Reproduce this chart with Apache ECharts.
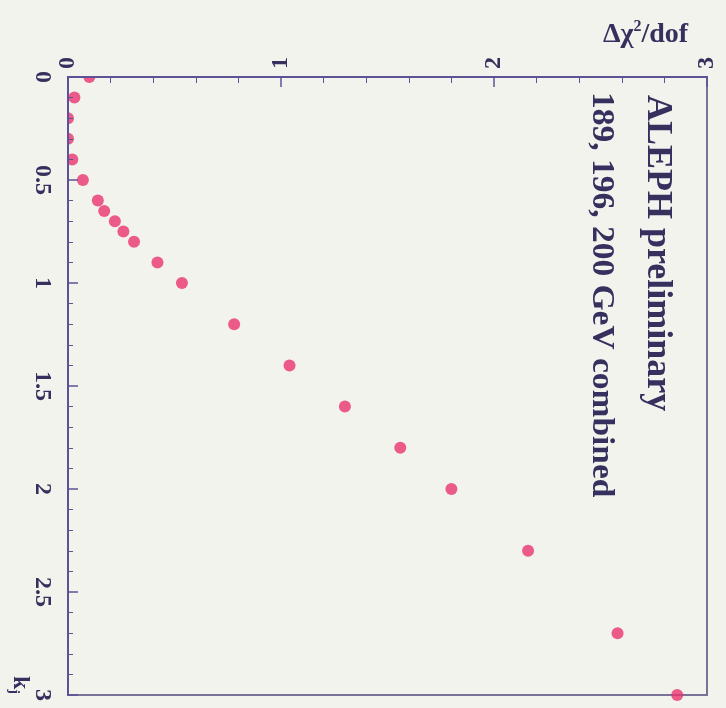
<!DOCTYPE html>
<html>
<head>
<meta charset="utf-8">
<script src="https://cdn.jsdelivr.net/npm/echarts@6/dist/echarts.min.js"></script>
<style>
  html, body { margin: 0; padding: 0; background: #f3f3ee; }
  #chart { width: 726px; height: 708px; }
</style>
</head>
<body>
<div id="chart"></div>
<script>
// Scan of k_j: Δχ²/dof versus the coupling k_j (plot drawn turned by a quarter)
const kValues = [0.0, 0.1, 0.2, 0.3, 0.4, 0.5, 0.6, 0.65, 0.7, 0.75, 0.8, 0.9, 1.0, 1.2, 1.4, 1.6, 1.8, 2.0, 2.3, 2.7, 3.0];
const chi2PerDof = [0.10, 0.03, 0.0, 0.0, 0.02, 0.07, 0.14, 0.17, 0.22, 0.26, 0.31, 0.42, 0.535, 0.78, 1.04, 1.30, 1.56, 1.80, 2.16, 2.58, 2.86];
const chi2Ticks = [0, 1, 2, 3];
const kTicks = [0, 0.5, 1, 1.5, 2, 2.5, 3];

const titleText = 'ALEPH preliminary';
const subtitleText = '189, 196, 200 GeV combined';

const ink = '#35305e';
const axisColor = '#5e5296';
const paper = '#f3f3ee';
const serif = '"Liberation Serif", "DejaVu Serif", serif';

const points = kValues.map((k, i) => [chi2PerDof[i], k]);

const chart = echarts.init(document.getElementById('chart'));
const grid = { left: 68, top: 77, right: 19, bottom: 13 };

chart.setOption({
  backgroundColor: paper,
  animation: false,
  grid: Object.assign({ show: true, borderColor: '#7a7296', borderWidth: 2, backgroundColor: 'transparent' }, grid),
  xAxis: {
    type: 'value', position: 'top', min: 0, max: 3, interval: 1, z: 5,
    axisLine: { show: true, onZero: false, lineStyle: { color: axisColor, width: 2 } },
    axisTick: { show: true, inside: true, length: 10, lineStyle: { color: axisColor, width: 1.5 } },
    minorTick: { show: true, splitNumber: 5, length: 6, lineStyle: { color: axisColor, width: 1 } },
    splitLine: { show: false },
    axisLabel: {
      rotate: -90, margin: 8, color: ink, fontFamily: serif, fontWeight: 'bold', fontSize: 24,
      formatter: v => (chi2Ticks.includes(v) ? String(v) : '')
    }
  },
  yAxis: {
    type: 'value', inverse: true, min: 0, max: 3, interval: 0.5, z: 5,
    axisLine: { show: true, onZero: false, lineStyle: { color: axisColor, width: 2 } },
    axisTick: { show: true, inside: true, length: 10, lineStyle: { color: axisColor, width: 1.5 } },
    minorTick: { show: true, splitNumber: 5, length: 5, lineStyle: { color: axisColor, width: 1 } },
    splitLine: { show: false },
    axisLabel: {
      rotate: -90, margin: 14, color: ink, fontFamily: serif, fontWeight: 'bold', fontSize: 24,
      formatter: v => (kTicks.includes(v) ? String(v) : '')
    }
  },
  series: [{
    type: 'scatter',
    data: points,
    symbol: 'circle',
    symbolSize: 12,
    itemStyle: { color: '#e8336e' },
    z: 2
  }],
  graphic: [
    // paper-coloured bands outside the frame so markers are cut at the axes
    { type: 'rect', z: 3, silent: true, shape: { x: 0, y: 0, width: grid.left - 1, height: 708 }, style: { fill: paper } },
    { type: 'rect', z: 3, silent: true, shape: { x: 0, y: 0, width: 726, height: grid.top - 1 }, style: { fill: paper } },
    {
      type: 'text', z: 6, x: 657, y: 95, rotation: -Math.PI / 2,
      style: { text: titleText, font: 'bold 36px ' + serif, fill: ink, textAlign: 'left', textVerticalAlign: 'middle' }
    },
    {
      type: 'text', z: 6, x: 601, y: 92, rotation: -Math.PI / 2, scaleX: 1.08,
      style: { text: subtitleText, font: 'bold 31px ' + serif, fill: ink, textAlign: 'left', textVerticalAlign: 'middle' }
    },
    {
      type: 'text', z: 6, x: 603, y: 35,
      style: {
        text: '{a|Δχ}{s|2}{a|/dof}',
        textVerticalAlign: 'middle',
        rich: {
          a: { font: 'bold 28px ' + serif, fill: ink, color: ink },
          s: { font: 'bold 16px ' + serif, fill: ink, color: ink, padding: [0, 0, 16, 0] }
        }
      }
    },
    {
      type: 'text', z: 6, x: 20, y: 676, rotation: -Math.PI / 2,
      style: {
        text: '{a|k}{s|j}',
        textVerticalAlign: 'middle',
        rich: {
          a: { font: 'bold 24px ' + serif, fill: ink, color: ink },
          s: { font: 'bold 14px ' + serif, fill: ink, color: ink, padding: [12, 0, 0, 0] }
        }
      }
    }
  ]
});
</script>
</body>
</html>
